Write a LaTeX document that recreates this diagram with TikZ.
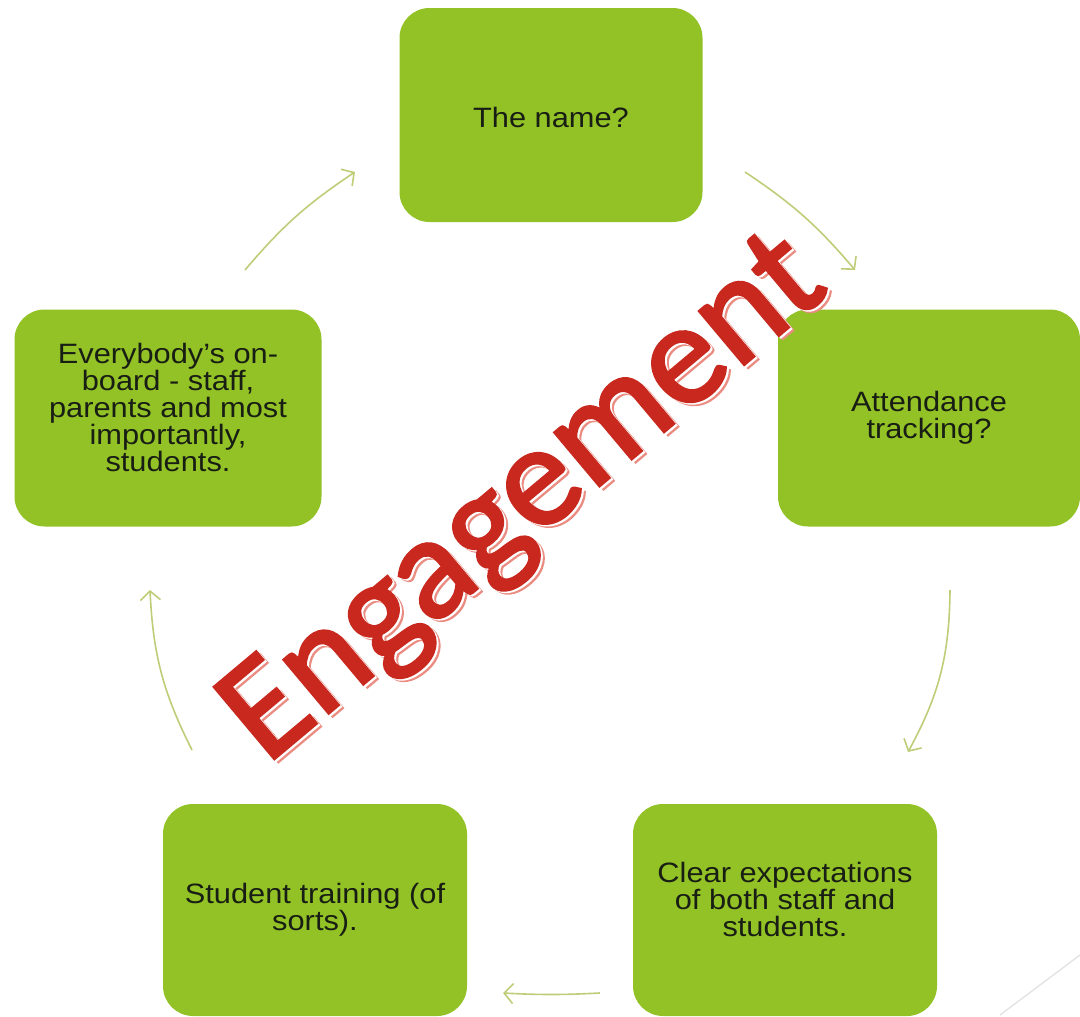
\documentclass[tikz,border=0pt]{standalone}
\usepackage{fontspec}
\setmainfont{Liberation Sans}
\newfontfamily\engfont[FakeBold=2]{Carlito}
\usetikzlibrary{arrows.meta}
\definecolor{boxgreen}{RGB}{146,194,38}
\definecolor{arrowgreen}{RGB}{190,205,120}
\definecolor{engred}{RGB}{200,40,30}
\definecolor{engshadow}{RGB}{235,140,130}
\definecolor{txtdark}{RGB}{25,30,20}
\tikzset{
  stepbox/.style={fill=boxgreen, rounded corners=30pt, draw=none,
    minimum width=303pt, minimum height=214pt},
  boxtxt/.style={align=center, text=txtdark, xscale=1.1, font=\fontsize{28}{27}\selectfont},
  cyc/.style={draw=arrowgreen, line width=1.6pt,
    -{Straight Barb[length=9pt,width=20pt,line width=1.6pt]}},
  engtxt/.style={rotate=40, font=\engfont\fontsize{146}{146}\selectfont},
}
\begin{document}
\begin{tikzpicture}[x=1pt,y=-1pt]
\useasboundingbox (0,0) rectangle (1080,1017);
\node[stepbox] (top) at (551,115) {};
\node[stepbox, minimum width=302pt, minimum height=217pt] (right) at (929,418) {};
\node[stepbox, minimum width=307pt, minimum height=217pt] (left) at (168,418) {};
\node[stepbox, minimum width=304pt, minimum height=212pt] (bl) at (315,910) {};
\node[stepbox, minimum width=304pt, minimum height=212pt] (br) at (785,910) {};
\node[boxtxt] (toptxt) at ([yshift=-2pt]top.center) {The name?};
\node[boxtxt] (righttxt) at (right.center) {Attendance\\tracking?};
\node[boxtxt] (lefttxt) at ([yshift=11pt]left.center) {Everybody’s on-\\board - staff,\\parents and most\\importantly,\\students.};
\node[boxtxt] (bltxt) at (bl.center) {Student training (of\\sorts).};
\node[boxtxt] (brtxt) at ([yshift=11pt]br.center) {Clear expectations\\of both staff and\\students.};
% arrow endpoints
\coordinate (a1s) at (245,270); \coordinate (a1e) at (355,172);
\coordinate (a2s) at (745,172); \coordinate (a2e) at (855,270);
\coordinate (a3s) at (950,590); \coordinate (a3e) at (908,752);
\coordinate (a4s) at (600,993); \coordinate (a4e) at (503,993);
\coordinate (a5s) at (192,750); \coordinate (a5e) at (150,590);
\draw[cyc] (a1s) to[bend left=8] (a1e);
\draw[cyc] (a2s) to[bend left=8] (a2e);
\draw[cyc] (a3s) to[bend left=14] (a3e);
\draw[cyc] (a4s) to[bend left=3] (a4e);
\draw[cyc] (a5s) to[bend left=12] (a5e);
% Engagement
\node[engtxt, text=engshadow] (engs) at (531,505) {Engagement};
\node[engtxt, text=white] (engw) at (529,503.5) {Engagement};
\node[engtxt, text=engred] (eng) at (527,502) {Engagement};
% faint line bottom right
\coordinate (fl1) at (1000,1015); \coordinate (fl2) at (1080,955);
\draw[gray!20, line width=1.5pt] (fl1) -- (fl2);
\end{tikzpicture}
\end{document}
